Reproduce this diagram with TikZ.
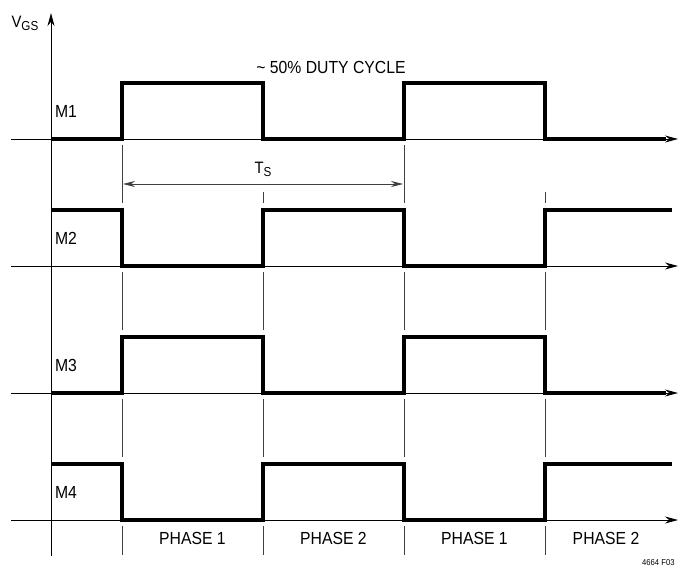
\documentclass[tikz,border=0pt]{standalone}
\usepackage{fontspec}
\setmainfont{Liberation Sans}[FakeStretch=0.9]
\usetikzlibrary{arrows.meta,positioning}

\begin{document}
\begin{tikzpicture}[x=1pt,y=-1pt,>={Stealth[length=13pt,width=7pt]}]

    \tikzstyle{signal}=[line width=3.4pt, line cap=butt, line join=miter]
    \tikzstyle{axis}=[line width=0.9pt, ->]
    \tikzstyle{guide}=[line width=0.8pt, black!75]
    \tikzstyle{dimline}=[guide, <->, >={Stealth[length=12pt,width=6pt]}]
    \tikzstyle{rowLabel}=[font=\fontsize{17.5}{20}\selectfont, inner sep=0pt]
    \tikzstyle{phaseLabel}=[rowLabel]

    \useasboundingbox (0,0) rectangle (679,569);

    \begin{scope}
        % Switching instants
        \def \ta {122}
        \def \tb {263}
        \def \tc {404}
        \def \td {545}

        % Vertical axis
        \coordinate (Ybot) at (51,556);
        \coordinate (Ytop) at (51,13);
        \draw[axis] (Ybot) -- (Ytop);
        \node[rowLabel, font=\fontsize{16.5}{18}\selectfont] (VGS) at (25,23) {V\raisebox{-0.35ex}{\fontsize{13}{14}\selectfont GS}};

        % Time axes
        \coordinate (M1in) at (11,139);  \coordinate (M1out) at (678,139);
        \coordinate (M2in) at (11,266);  \coordinate (M2out) at (678,266);
        \coordinate (M3in) at (11,393);  \coordinate (M3out) at (678,393);
        \coordinate (M4in) at (11,520);  \coordinate (M4out) at (678,520);
        \draw[axis] (M1in) -- (M1out);
        \draw[axis] (M2in) -- (M2out);
        \draw[axis] (M3in) -- (M3out);
        \draw[axis] (M4in) -- (M4out);

        % Gate signals
        \draw[signal] (51,139) -- (\ta,139) -- (\ta,83) -- (\tb,83) -- (\tb,139) -- (\tc,139) -- (\tc,83) -- (\td,83) -- (\td,139) -- (666,139);
        \draw[signal] (51,210) -- (\ta,210) -- (\ta,266) -- (\tb,266) -- (\tb,210) -- (\tc,210) -- (\tc,266) -- (\td,266) -- (\td,210) -- (672,210);
        \draw[signal] (51,393) -- (\ta,393) -- (\ta,337) -- (\tb,337) -- (\tb,393) -- (\tc,393) -- (\tc,337) -- (\td,337) -- (\td,393) -- (666,393);
        \draw[signal] (51,464) -- (\ta,464) -- (\ta,520) -- (\tb,520) -- (\tb,464) -- (\tc,464) -- (\tc,520) -- (\td,520) -- (\td,464) -- (672,464);

        % Row labels
        \node[rowLabel] (M1) at (66,111) {M1};
        \node[rowLabel] (M2) at (66,238) {M2};
        \node[rowLabel] (M3) at (66,365) {M3};
        \node[rowLabel] (M4) at (66,492) {M4};

        % Guide lines
        \draw[guide] (\ta,145) -- (\ta,203);
        \draw[guide] (\tb,192) -- (\tb,203);
        \draw[guide] (\tc,145) -- (\tc,203);
        \draw[guide] (\td,192) -- (\td,203);
        \foreach \t in {\ta,\tb,\tc,\td} {
            \draw[guide] (\t,272) -- (\t,330);
            \draw[guide] (\t,399) -- (\t,457);
            \draw[guide] (\t,526) -- (\t,555);
        }

        % Period
        \coordinate (TSa) at (123,184);
        \coordinate (TSb) at (403,184);
        \draw[dimline] (TSa) -- (TSb);
        \node[rowLabel, font=\fontsize{16.5}{18}\selectfont] (TS) at (263,169) {T\raisebox{-0.35ex}{\fontsize{13}{14}\selectfont S}};

        % Duty cycle
        \node[rowLabel] (duty) at (331,67) {\textasciitilde{} 50\% DUTY CYCLE};

        % Phases
        \node[phaseLabel] (P1a) at (192.5,538) {PHASE 1};
        \node[phaseLabel] (P2a) at (333.5,538) {PHASE 2};
        \node[phaseLabel] (P1b) at (474.5,538) {PHASE 1};
        \node[phaseLabel] (P2b) at (606,538) {PHASE 2};

        % Figure code
        \node[inner sep=0pt, anchor=west, font=\fontsize{8.5}{10}\selectfont] (fig) at (642,563) {4664 F03};
    \end{scope}
\end{tikzpicture}
\end{document}
